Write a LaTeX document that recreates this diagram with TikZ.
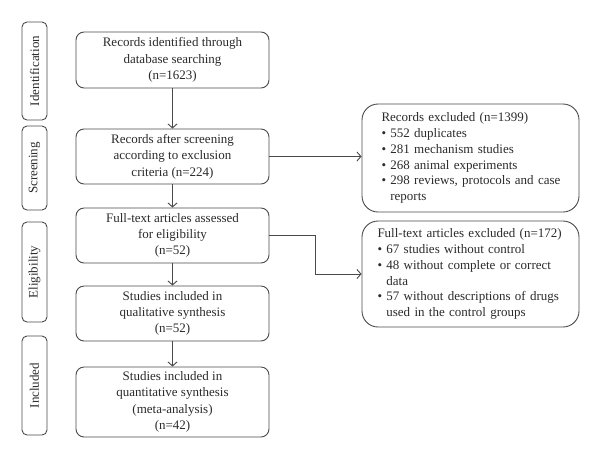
\documentclass[tikz,border=0pt]{standalone}
\usepackage{fontspec}
\setmainfont{Liberation Serif}
\usetikzlibrary{arrows.meta}
\definecolor{ln}{HTML}{4A4A4A}
\definecolor{tx}{HTML}{2A2A2A}
\newcommand{\bul}{\textbullet\ }
\newcommand{\bind}{\phantom{\textbullet\ }}
\begin{document}
\begin{tikzpicture}[x=1pt,y=-1pt,
  every node/.style={text=tx,font=\fontsize{13}{16.3}\selectfont},
  mainbox/.style={draw=ln,line width=0.9pt,rounded corners=8pt,minimum width=193pt,align=center,inner sep=0pt},
  sidebox/.style={draw=ln,line width=0.9pt,rounded corners=5pt,minimum width=25pt,inner sep=0pt,rotate=90},
  exbox/.style={draw=ln,line width=0.9pt,rounded corners=16pt,minimum width=217pt,text width=186pt,align=left,inner sep=0pt,font=\fontsize{13}{15.8}\selectfont},
  arr/.style={draw=ln,line width=0.9pt,-{Straight Barb[length=4pt,width=9pt,line width=0.9pt]}}]
\useasboundingbox (0,0) rectangle (600,459);
% side labels
\node[sidebox,minimum width=98pt,minimum height=25pt] (sid) at (34.5,71) {Identification};
\node[sidebox,minimum width=84pt,minimum height=25pt] (sscr) at (34.5,168) {Screening};
\node[sidebox,minimum width=100pt,minimum height=25pt] (selig) at (34.5,272) {Eligibility};
\node[sidebox,minimum width=99pt,minimum height=25pt] (sinc) at (34.5,385.5) {Included};
% main boxes
\node[mainbox,minimum height=56pt] (b1) at (172.5,60) {Records identified through\\database searching\\(n=1623)};
\node[mainbox,minimum height=55pt] (b2) at (172.5,156.5) {Records after screening\\according to exclusion\\criteria (n=224)};
\node[mainbox,minimum height=55pt] (b3) at (172.5,235.5) {Full-text articles assessed\\for eligibility\\(n=52)};
\node[mainbox,minimum height=55pt] (b4) at (172.5,313.5) {Studies included in\\qualitative synthesis\\(n=52)};
\node[mainbox,minimum height=70pt] (b5) at (172.5,402) {Studies included in\\quantitative synthesis\\(meta-analysis)\\(n=42)};
% exclusion boxes
\node[exbox,minimum height=108pt] (e1) at (470.5,158) {\hspace*{4pt}Records excluded (n=1399)\\\hspace*{4pt}\bul 552 duplicates\\\hspace*{4pt}\bul 281 mechanism studies\\\hspace*{4pt}\bul 268 animal experiments\\\hspace*{4pt}\bul 298 reviews, protocols and case\\\hspace*{4pt}\bind reports};
\node[exbox,minimum height=106pt] (e2) at (470.5,274) {Full-text articles excluded (n=172)\\\bul 67 studies without control\\\bul 48 without complete or correct\\\bind data\\\bul 57 without descriptions of drugs\\\bind used in the control groups};
% connectors
\draw[arr] (b1) -- (b2);
\draw[arr] (b2) -- (b3);
\draw[arr] (b3) -- (b4);
\draw[arr] (b4) -- (b5);
\draw[arr] (b2.east) -- (e1.west |- b2.east);
\coordinate (k) at (315,235.5);
\draw[arr] (b3.east) -- (k) |- (e2.west);
\end{tikzpicture}
\end{document}
